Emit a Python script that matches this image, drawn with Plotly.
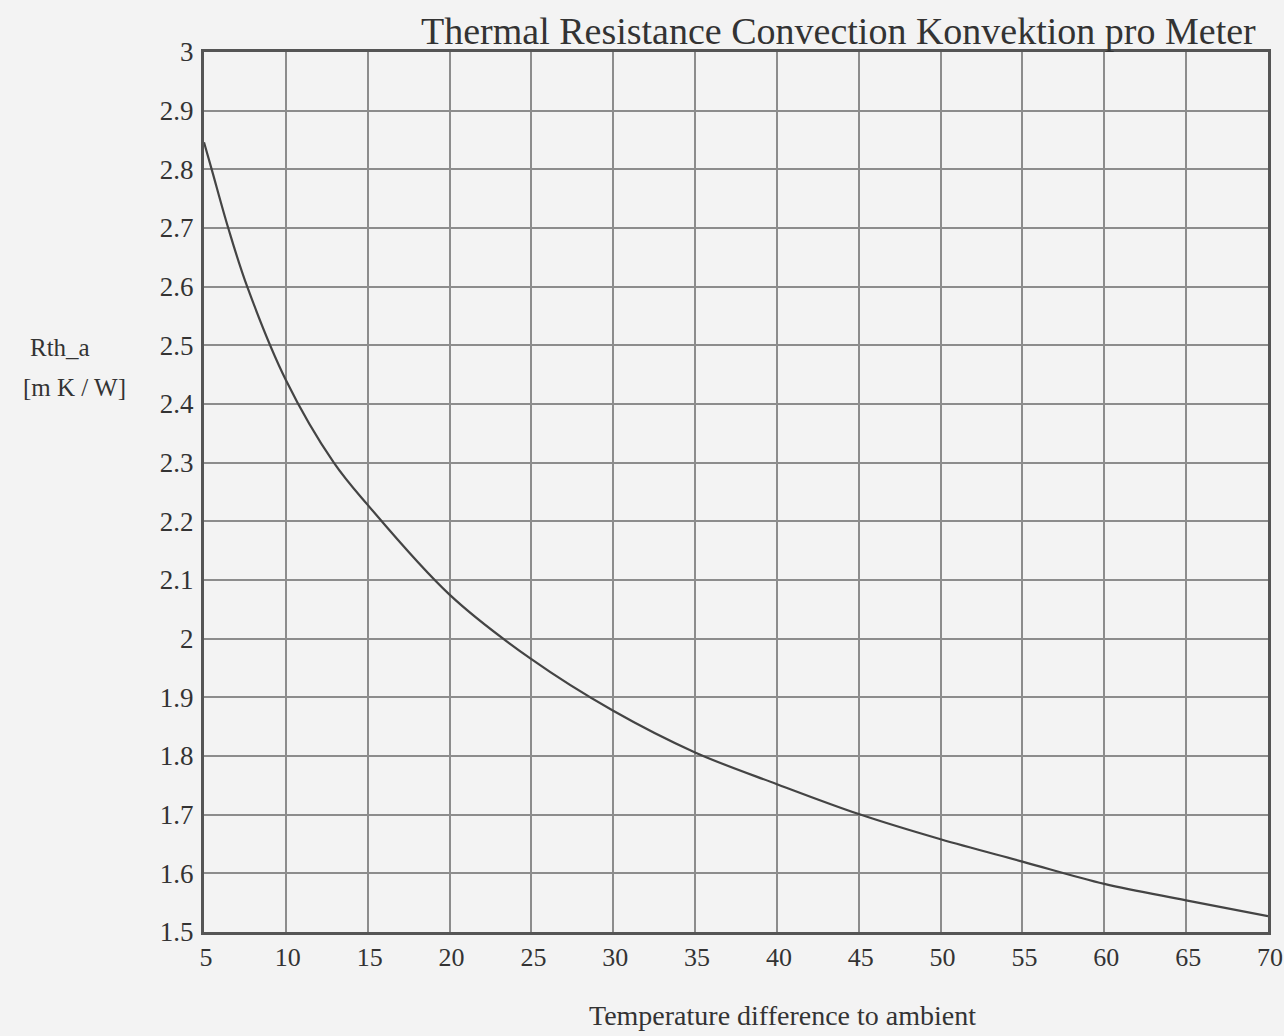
import plotly.graph_objects as go

# Data
delta_t = [5, 5.47, 6.48, 7.64, 10, 12.93, 15, 20, 25, 30, 35, 40, 45, 50, 55, 60, 65, 70]
rth_a = [2.846, 2.8, 2.7, 2.6, 2.441, 2.3, 2.228, 2.075, 1.965, 1.877, 1.806,
         1.752, 1.701, 1.658, 1.62, 1.582, 1.554, 1.527]

x_ticks = [5, 10, 15, 20, 25, 30, 35, 40, 45, 50, 55, 60, 65, 70]
y_ticks = [1.5, 1.6, 1.7, 1.8, 1.9, 2.0, 2.1, 2.2, 2.3, 2.4, 2.5, 2.6, 2.7, 2.8, 2.9, 3.0]
y_tick_text = ["1.5", "1.6", "1.7", "1.8", "1.9", "2", "2.1", "2.2", "2.3", "2.4",
               "2.5", "2.6", "2.7", "2.8", "2.9", "3"]

title_text = "Thermal Resistance Convection Konvektion pro Meter"
x_title = "Temperature difference to ambient"
y_title_line1 = "Rth_a"
y_title_line2 = "[m K / W]"

SERIF = "Liberation Serif, Times New Roman, serif"
TXT = "#333333"
BG = "#f3f3f3"

fig = go.Figure()
fig.add_trace(go.Scatter(
    x=delta_t, y=rth_a, mode="lines",
    line=dict(color="#444444", width=2.2, shape="spline", smoothing=1.0),
    showlegend=False, hoverinfo="x+y",
))

fig.update_layout(
    width=1284, height=1036,
    margin=dict(l=204, r=16, t=52, b=104, autoexpand=False),
    paper_bgcolor=BG, plot_bgcolor=BG,
    font=dict(family=SERIF, color=TXT),
    showlegend=False,
)

fig.update_xaxes(
    range=[5, 70], tickvals=x_ticks, ticktext=[str(v) for v in x_ticks],
    showgrid=True, gridcolor="#8c8c8c", gridwidth=2,
    showline=True, linecolor="#555555", linewidth=3, mirror=True,
    ticks="", tickfont=dict(family=SERIF, size=26, color=TXT),
    ticklabelshift=2, ticklabeloverflow="allow", zeroline=False,
    automargin=False,
)
fig.update_yaxes(
    range=[1.5, 3.0], tickvals=y_ticks, ticktext=y_tick_text,
    showgrid=True, gridcolor="#8c8c8c", gridwidth=2,
    showline=True, linecolor="#555555", linewidth=3, mirror=True,
    ticks="outside", ticklen=2, tickcolor=BG,
    tickfont=dict(family=SERIF, size=27, color=TXT),
    zeroline=False, automargin=False,
)

fig.add_annotation(
    text=title_text, xref="paper", yref="paper", x=1, y=1,
    xanchor="right", yanchor="bottom", xshift=-10, yshift=-2,
    showarrow=False, font=dict(family=SERIF, size=38, color=TXT),
)
fig.add_annotation(
    text=x_title, xref="paper", yref="paper", x=(782 - 204) / (1268 - 204), y=0,
    xanchor="center", yanchor="middle", yshift=-83,
    showarrow=False, font=dict(family=SERIF, size=28, color=TXT),
)
fig.add_annotation(
    text=y_title_line1, xref="paper", yref="paper", x=0, y=(932 - 348) / (932 - 52),
    xanchor="left", yanchor="middle", xshift=-176,
    showarrow=False, font=dict(family=SERIF, size=25, color=TXT),
)
fig.add_annotation(
    text=y_title_line2, xref="paper", yref="paper", x=0, y=(932 - 387) / (932 - 52),
    xanchor="left", yanchor="middle", xshift=-183,
    showarrow=False, font=dict(family=SERIF, size=25, color=TXT),
)

fig.write_html("out.html")
